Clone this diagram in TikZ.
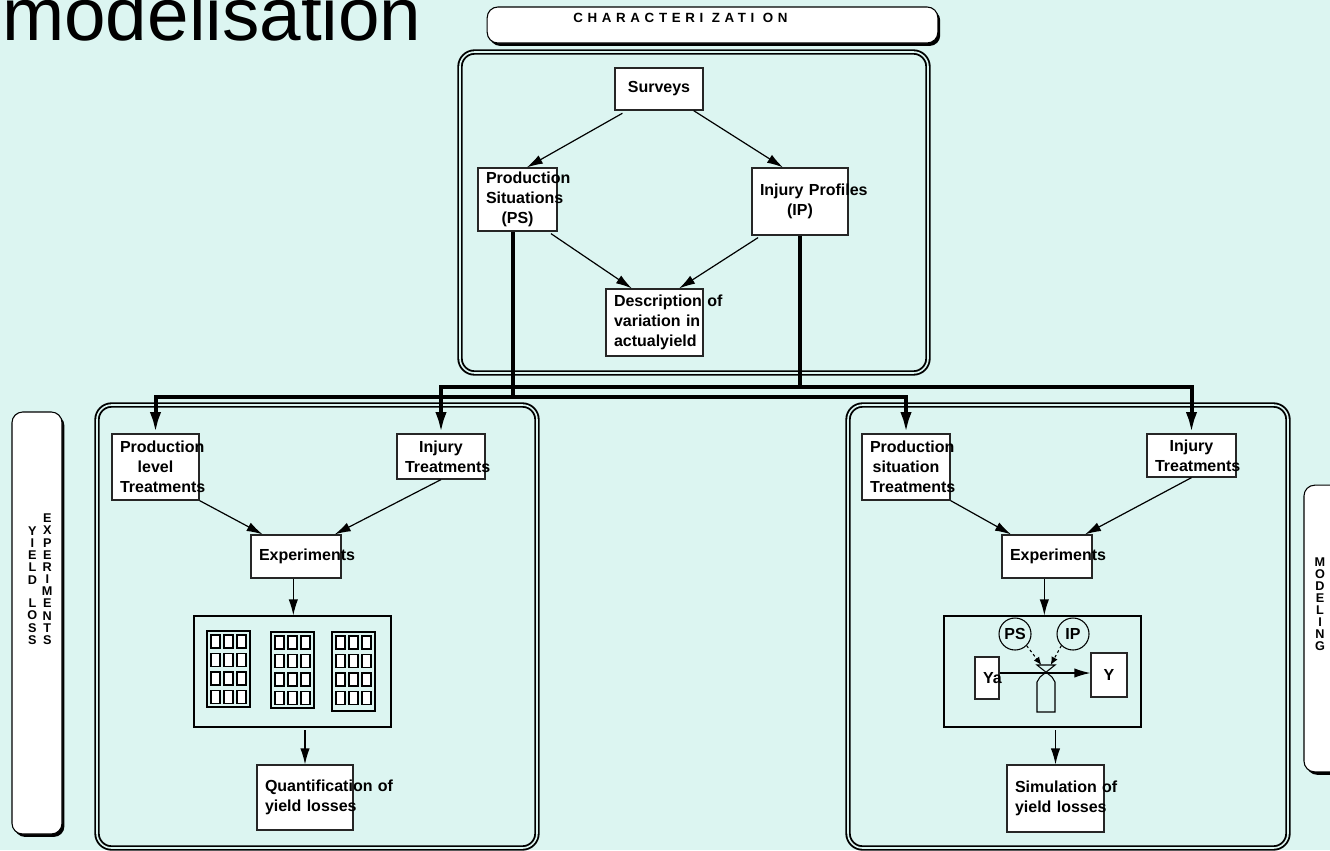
\documentclass[tikz,border=0pt]{standalone}
\usepackage{fontspec}
\setmainfont{Liberation Sans}
\newfontfamily\tagfont[LetterSpace=35]{Liberation Sans}
\usepackage{tikz}
\usetikzlibrary{positioning, arrows.meta, shadows}
\usepackage{xcolor}
\definecolor{bgc}{RGB}{220,245,241}

\begin{document}
\hyphenpenalty=10000
\exhyphenpenalty=10000
\begin{tikzpicture}[x=0.75pt, y=-0.75pt,
    flowbox/.style={draw=black!85, line width=0.9pt, fill=white, inner xsep=6pt, inner ysep=0pt,
        align=center, font=\bfseries\fontsize{12}{15}\selectfont},
    panel/.style={draw, line width=1.4pt, double=bgc, double distance=1.2pt, rounded corners=11pt},
    tagbox/.style={draw, line width=0.8pt, fill=white, rounded corners=8pt,
        drop shadow={shadow xshift=1.8pt, shadow yshift=-2.2pt, fill=black, opacity=1}},
    sidetext/.style={font=\bfseries\fontsize{9.5}{8.6}\selectfont, inner sep=0pt},
    arr/.style={line width=0.9pt, -{Latex[length=12pt, width=7pt]}},
    bus/.style={line width=3pt, -{Latex[length=16pt, width=8.5pt]}}]

    % Page
    \useasboundingbox (0,0) rectangle (1330,850);
    \clip (0,0) rectangle (1330,850);
    \fill[bgc] (0,0) rectangle (1330,850);

    % Title
    \node[anchor=base west, inner sep=0pt, font=\fontsize{56}{60}\selectfont] (title) at (2,40) {modelisation};

    % Tags
    \node[tagbox, minimum width=338pt, minimum height=27pt] (chartag) at (712.5,25) {};
    \node[anchor=west, inner sep=0pt, font=\tagfont\bfseries\fontsize{10}{11}\selectfont] (chartxt) at (573,18) {CHARACTERI ZATI ON};

    \node[tagbox, minimum width=37.5pt, minimum height=316.5pt] (yieldtag) at (37,623) {};
    \node[sidetext] (yieldtxt) at (40,581) {\begin{tabular}[b]{@{}c@{}}Y\\I\\E\\L\\D\\ \\L\\O\\S\\S\end{tabular}\hspace{3.5pt}\begin{tabular}[b]{@{}c@{}}E\\X\\P\\E\\R\\I\\M\\E\\N\\T\\S\end{tabular}};

    \node[tagbox, minimum width=31.5pt, minimum height=215pt] (modtag) at (1325,628.5) {};
    \node[sidetext, font=\bfseries\fontsize{9.5}{8.3}\selectfont] (modtxt) at (1320,606) {\begin{tabular}{@{}c@{}}M\\O\\D\\E\\L\\I\\N\\G\end{tabular}};

    % Panels
    \draw[panel] (460,52) rectangle (928,373);
    \draw[panel] (97,405) rectangle (537,848);
    \draw[panel] (848,405) rectangle (1288,848);

    % Characterization
    \node[flowbox, text width=54pt, minimum height=31.5pt] (surveys) at (659,89) {Surveys};
    \node[flowbox, text width=47.25pt, minimum height=47.25pt] (ps) at (517.5,199.5) {Production\\Situations\\(PS)};
    \node[flowbox, text width=60pt, minimum height=50.25pt] (ip) at (800,201.5) {Injury~Profiles\\(IP)};
    \node[flowbox, text width=60.75pt, minimum height=50.25pt] (desc) at (654.5,322.5) {Description~of\\variation~in\\actualyield};

    \draw[arr] ([xshift=6pt,yshift=-2pt]surveys.south west) -- ([xshift=7pt]ps.north);
    \draw[arr] ([xshift=-7.5pt]surveys.south east) -- ([xshift=-12.75pt]ip.north);
    \draw[arr] ([xshift=-5pt,yshift=-1.5pt]ps.south east) -- ([xshift=-17pt]desc.north);
    \draw[arr] ([xshift=5pt,yshift=-1.5pt]ip.south west) -- ([xshift=18.5pt]desc.north);

    % Yield loss experiments
    \node[flowbox, text width=53.25pt, minimum height=49.5pt] (plt) at (155.5,467) {Production\\level\\Treatments};
    \node[flowbox, text width=54pt, minimum height=33.75pt] (itl) at (441,456.5) {Injury\\Treatments};
    \node[flowbox, text width=55.5pt, minimum height=32.25pt] (expl) at (296,556.5) {Experiments};
    \node[draw, line width=0.9pt, minimum width=147.75pt, minimum height=83.25pt] (plots) at (292.5,671.5) {};
    \node[flowbox, text width=60pt, minimum height=48.75pt] (quant) at (305,797.5) {Quantification~of\\yield~losses};

    % Plots
    \foreach \bx/\by/\bh in {207/631/76, 271/632/76, 332/632/79} {
        \draw[line width=1pt] (\bx,\by) rectangle ++(43,\bh);
        \foreach \i in {0,1,2}
            \foreach \j in {0,1,2,3}
                \draw[line width=1.1pt, fill=white] (\bx+4+13*\i,\by+4+18.5*\j) rectangle ++(9,13);
    }

    \draw[arr] (plt.south east) -- ([xshift=-25pt]expl.north);
    \draw[arr] (itl.south) -- ([xshift=29pt]expl.north);
    \draw[arr] ([xshift=-2pt]expl.south) -- ([xshift=-2pt]expl.south |- plots.north);
    \draw[arr] ([yshift=-2pt]quant.north |- plots.south) -- (quant.north);

    % Modeling
    \node[flowbox, text width=54pt, minimum height=49.5pt] (pst) at (906,467) {Production\\situation\\Treatments};
    \node[flowbox, text width=54.75pt, minimum height=32.25pt] (itr) at (1191.5,455.5) {Injury\\Treatments};
    \node[flowbox, text width=55.5pt, minimum height=32.25pt] (expr) at (1047,556.5) {Experiments};
    \node[draw, line width=0.9pt, minimum width=147.75pt, minimum height=83.25pt] (model) at (1042.5,671.5) {};
    \node[flowbox, text width=60.75pt, minimum height=50.25pt] (sim) at (1055.5,798.5) {Simulation~of\\yield~losses};

    % Model scheme
    \node[draw, circle, line width=0.8pt, minimum size=24pt, inner sep=0pt, font=\bfseries\fontsize{12}{14}\selectfont] (psc) at (1015,634) {PS};
    \node[draw, circle, line width=0.8pt, minimum size=24pt, inner sep=0pt, font=\bfseries\fontsize{12}{14}\selectfont] (ipc) at (1073,634) {IP};
    \node[flowbox, text width=6pt, minimum height=31.5pt] (ya) at (987,678) {Ya};
    \node[flowbox, text width=15pt, minimum height=33pt] (yout) at (1109,675) {Y};
    \draw[line width=0.8pt] (1037,665) -- (1055,665) -- (1040,677) -- (1037,682) -- (1037,712)
        -- (1055,712) -- (1055,682) -- (1052,677) -- cycle;
    \coordinate (valve) at (1046,665);
    \draw[arr] ([yshift=3.75pt]ya.east) -- ([yshift=1.5pt]yout.west);
    \draw[line width=0.8pt, dash pattern=on 2pt off 2pt, -{Latex[length=6pt, width=5pt]}] (psc.-45) -- ([xshift=-3.5pt]valve);
    \draw[line width=0.8pt, dash pattern=on 2pt off 2pt, -{Latex[length=6pt, width=5pt]}] (ipc.-135) -- ([xshift=3.5pt]valve);

    \draw[arr] (pst.south east) -- ([xshift=-27pt]expr.north);
    \draw[arr] (itr.south) -- ([xshift=28.5pt]expr.north);
    \draw[arr] ([xshift=-2pt]expr.south) -- ([xshift=-2pt]expr.south |- model.north);
    \draw[arr] ([yshift=-2pt]sim.north |- model.south) -- (sim.north);

    % Links from characterization
    \coordinate (psbus) at (513,397);
    \coordinate (ipbus) at (800,387);
    \draw[line width=3pt] (ps.south -| psbus) -- (psbus);
    \draw[bus] (psbus) -| (plt.north);
    \draw[bus] (psbus) -| (pst.north);
    \draw[line width=3pt] (ip.south) -- (ipbus);
    \draw[bus] (ipbus) -| (itl.north);
    \draw[bus] (ipbus) -| (itr.north);

\end{tikzpicture}
\end{document}
